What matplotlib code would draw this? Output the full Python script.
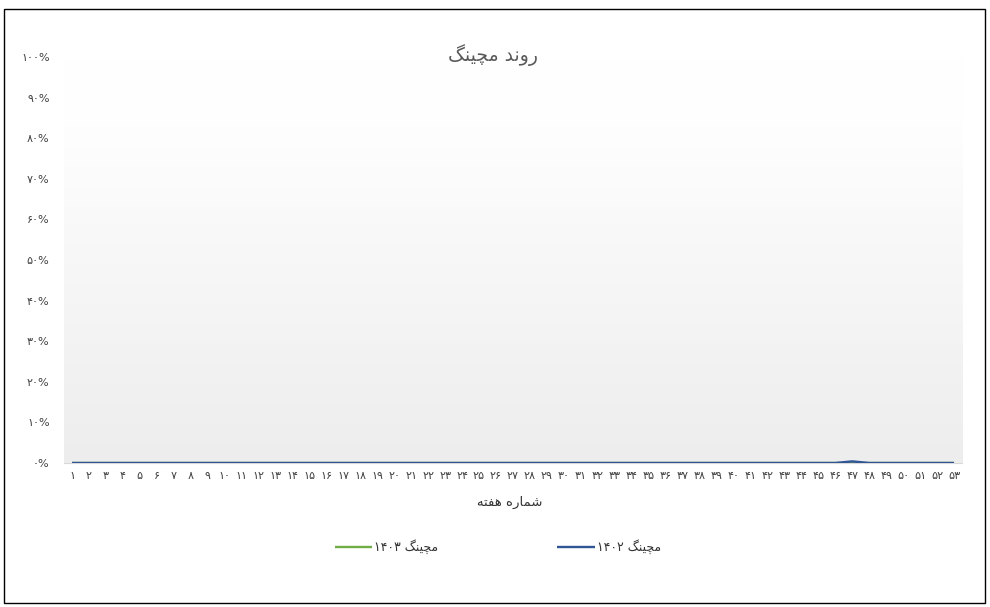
import matplotlib
matplotlib.use("Agg")
import matplotlib.pyplot as plt
import numpy as np
from matplotlib.patches import Rectangle
from matplotlib.colors import LinearSegmentedColormap

# ---- data ----
weeks = list(range(1, 54))
series_1403 = [0.0] * 53
series_1402 = [0.0] * 46 + [0.004] + [0.0] * 6
y_ticks = [0, 10, 20, 30, 40, 50, 60, 70, 80, 90, 100]

# Persian text, pre-shaped (presentation forms, visual order)
title_text = "\uFB93\uFEE8\uFBFF\uFB7D\uFEE3 \uFEAA\uFEE7\uFEED\uFEAD"        # روند مچینگ
xlabel_text = "\uFEEA\uFE98\uFED4\uFEEB \uFEE9\uFEAD\uFE8E\uFEE4\uFEB7"       # شماره هفته
word_matching = "\uFB93\uFEE8\uFBFF\uFB7D\uFEE3"                                # مچینگ
label_1403 = "\u06F1\u06F4\u06F0\u06F3 " + word_matching
label_1402 = "\u06F1\u06F4\u06F0\u06F2 " + word_matching

fa_digits = str.maketrans("0123456789", "\u06F0\u06F1\u06F2\u06F3\u06F4\u06F5\u06F6\u06F7\u06F8\u06F9")
def fa(s):
    return str(s).translate(fa_digits)

plt.rcParams['font.family'] = ['DejaVu Sans']
grey = "#595959"

fig = plt.figure(figsize=(9.9, 6.07), dpi=100)
ax = fig.add_axes([63.5/990, 1-463/607, (962.5-63.5)/990, (463-57)/607])

# gradient background (white at top, light grey at bottom)
grad = np.linspace(0, 1, 256).reshape(-1, 1)
cmap = LinearSegmentedColormap.from_list("g", [(0, "#FFFFFF"), (0.17, "#FEFEFE"), (1.0, "#EDEDED")])
ax.imshow(grad, aspect="auto", cmap=cmap, extent=[0, 1, 0, 1], transform=ax.transAxes, zorder=0)

ax.plot(weeks, series_1403, color="#70AD47", lw=1.7, label=label_1403, zorder=2, solid_capstyle="butt")
ax.plot(weeks, series_1402, color="#2F5597", lw=1.7, label=label_1402, zorder=3, solid_capstyle="butt")

ax.set_xlim(0.5, 53.5)
ax.set_ylim(0, 1.0)
ax.set_yticks([v/100 for v in y_ticks])
ax.set_yticklabels([fa(v) + "%" for v in y_ticks], fontsize=8, color="#404040")
ax.set_xticks(weeks)
ax.set_xticklabels([fa(w) for w in weeks], fontsize=8, color="#404040")
ax.tick_params(axis="both", length=0)
ax.tick_params(axis="y", pad=10)
ax.tick_params(axis="x", pad=6)
for sp in ["top", "right", "left"]:
    ax.spines[sp].set_visible(False)
ax.spines["bottom"].set_color("#D9D9D9")
ax.spines["bottom"].set_linewidth(0.8)

fig.text(493/990, 1-55/607, title_text, ha="center", va="center", fontsize=13.5, color=grey)
fig.text(510/990, 1-502/607, xlabel_text, ha="center", va="center", fontsize=9.5, color="#333333")

leg = fig.legend(loc="center", bbox_to_anchor=(498/990, 1-547/607), ncol=2, frameon=False,
                 prop={"size": 9}, columnspacing=9.5, handlelength=3, handletextpad=0.2)
for t in leg.get_texts():
    t.set_color("#333333")

fig.patches.append(Rectangle((4/990, 1-603/607), (985-4)/990, (603-9)/607, transform=fig.transFigure,
                             fill=False, edgecolor="black", lw=1.0))

fig.savefig("out.png", dpi=100)
